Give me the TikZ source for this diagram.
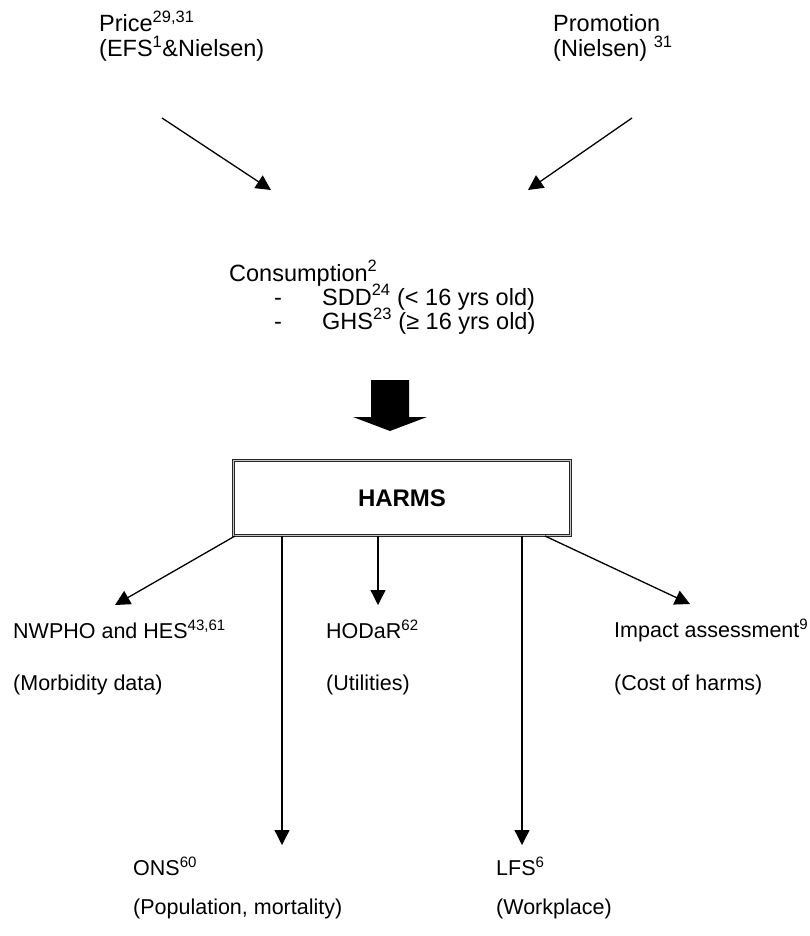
\documentclass[tikz,border=0pt]{standalone}
\usepackage{fontspec}
\setmainfont{Liberation Sans}
\usetikzlibrary{arrows.meta}
\tikzset{
  >={Triangle[length=15pt,width=15pt]},
}
\tikzstyle{link}=[line width=1.3pt,->]
\tikzstyle{every node}=[font=\fontsize{21.5}{25}\selectfont,inner sep=0pt,anchor=base west]
\tikzstyle{big}=[font=\fontsize{23.5}{28}\selectfont]
\tikzstyle{harmsbox}=[anchor=center,draw=black!85,double=gray!45,double distance=1.6pt,line width=1pt,minimum width=337pt,minimum height=75pt,font=\fontsize{24}{28}\selectfont\bfseries]
\begin{document}
\begin{tikzpicture}[x=1pt,y=-1pt]
    \useasboundingbox (0,0) rectangle (809,936);
    % data sources
    \node[big] (price) at (99,32) {Price\textsuperscript{29,31}};
    \node[big] (pricesrc) at (99,57) {(EFS\textsuperscript{1}\&Nielsen)};
    \node[big] (promo) at (553,32) {Promotion};
    \node[big] (promosrc) at (553,57) {(Nielsen) \textsuperscript{31}};
    \coordinate (pricetail) at (162,118);
    \coordinate (pricetip) at (271,190);
    \coordinate (promotail) at (632,118);
    \coordinate (promotip) at (528,190);
    \draw[link] (pricetail) -- (pricetip);
    \draw[link] (promotail) -- (promotip);
    % consumption
    \node[big] (cons) at (229,281) {Consumption\textsuperscript{2}};
    \node[big] (dasha) at (274,305) {-};
    \node[big] (sdd) at (322,305) {SDD\textsuperscript{24} (< 16 yrs old)};
    \node[big] (dashb) at (274,329) {-};
    \node[big] (ghs) at (322,329) {GHS\textsuperscript{23} (≥ 16 yrs old)};
    \fill (371,380) -- (409,380) -- (409,417) -- (427,417) -- (390,431)
      -- (353,417) -- (371,417) -- cycle;
    % harms
    \node[harmsbox] (harms) at (402,498) {HARMS};
    \node (nwpho) at (13,638) {NWPHO and HES\textsuperscript{43,61}};
    \node (morb) at (13,690) {(Morbidity data)};
    \node (hodar) at (326,638) {HODaR\textsuperscript{62}};
    \node (util) at (326,690) {(Utilities)};
    \node (impact) at (614,637) {Impact assessment\textsuperscript{9}};
    \node (cost) at (614,690) {(Cost of harms)};
    \node (ons) at (133,875) {ONS\textsuperscript{60}};
    \node (pop) at (133,914) {(Population, mortality)};
    \node (lfs) at (496,875) {LFS\textsuperscript{6}};
    \node (work) at (496,914) {(Workplace)};
    \coordinate (nwphotip) at (115,605);
    \coordinate (hodartip) at (378,605);
    \coordinate (impacttip) at (690,604);
    \coordinate (onstip) at (282,845);
    \coordinate (lfstip) at (522,845);
    \draw[link] ([xshift=2pt]harms.south west) -- (nwphotip);
    \draw[link] (harms.south -| hodartip) -- (hodartip);
    \draw[link] ([xshift=-26pt]harms.south east) -- (impacttip);
    \draw[link] (harms.south -| onstip) -- (onstip);
    \draw[link] (harms.south -| lfstip) -- (lfstip);
\end{tikzpicture}
\end{document}
